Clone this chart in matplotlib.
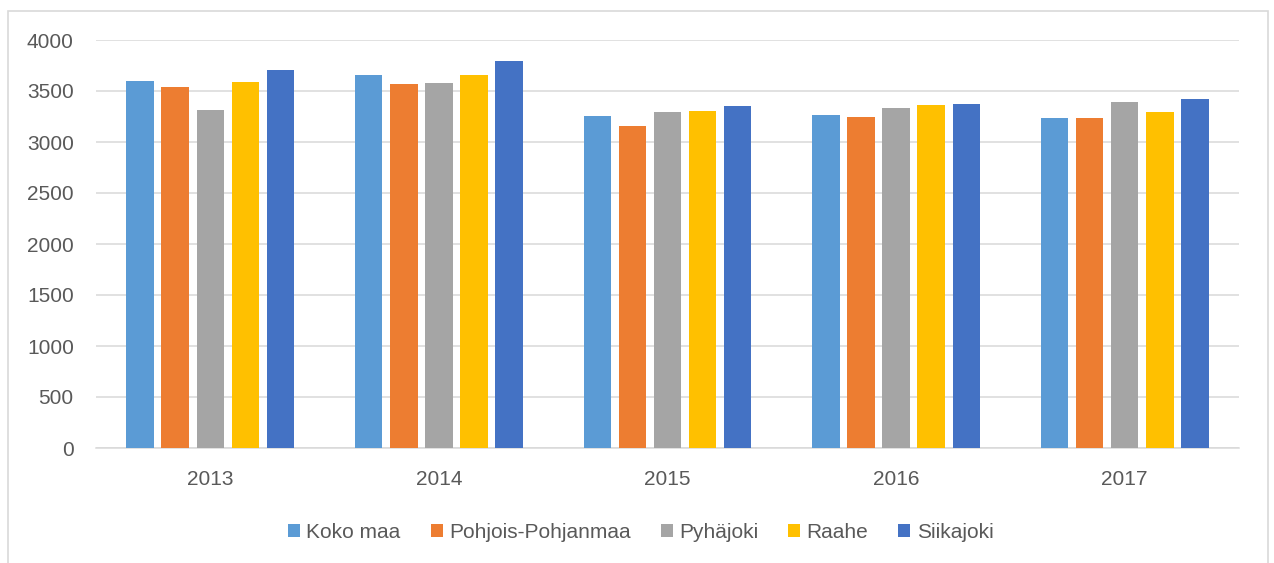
import numpy as np
import matplotlib.pyplot as plt
from matplotlib.patches import Rectangle

plt.rcParams['font.family'] = ['Liberation Sans', 'DejaVu Sans']

# data
years = ['2013', '2014', '2015', '2016', '2017']
koko_maa = [3598, 3657, 3258, 3265, 3232]
pohjois_pohjanmaa = [3539, 3572, 3157, 3242, 3232]
pyhajoki = [3317, 3581, 3291, 3330, 3389]
raahe = [3585, 3654, 3301, 3366, 3291]
siikajoki = [3706, 3791, 3356, 3373, 3425]

series = [koko_maa, pohjois_pohjanmaa, pyhajoki, raahe, siikajoki]
names = ['Koko maa', 'Pohjois-Pohjanmaa', 'Pyhäjoki', 'Raahe', 'Siikajoki']
colors = ['#5B9BD5', '#ED7D31', '#A5A5A5', '#FFC000', '#4472C4']
text_col = '#595959'
line_col = '#D9D9D9'

fig = plt.figure(figsize=(12.74, 5.63), dpi=100)
ax = fig.add_axes([96/1274, 115/563, 1143/1274, 408/563])

# outer chart border (bottom edge runs off the picture)
fig.patches.append(Rectangle((8/1274, -10/563), 1260/1274, 562/563,
                             transform=fig.transFigure, fill=False,
                             edgecolor=line_col, linewidth=1.2))

x = np.arange(len(years))
pitch = 0.1535
width = 0.12
for i, vals in enumerate(series):
    ax.bar(x + (i - 2) * pitch, vals, width, color=colors[i], label=names[i],
           zorder=3)

ax.set_xlim(-0.5, 4.5)
ax.set_ylim(0, 4000)
ax.set_yticks(np.arange(0, 4001, 500))
ax.set_xticks(x)
ax.set_xticklabels(years)
ax.grid(axis='y', color=line_col, linewidth=1.1, zorder=0)
for s in ['top', 'left', 'right']:
    ax.spines[s].set_visible(False)
ax.spines['bottom'].set_color(line_col)
ax.spines['bottom'].set_linewidth(1.1)
ax.tick_params(axis='both', length=0, labelsize=15, colors=text_col)
ax.tick_params(axis='y', pad=16)
ax.tick_params(axis='x', pad=16)

ax.legend(loc='center', bbox_to_anchor=(0.503, 0.054),
          bbox_transform=fig.transFigure, ncol=5, frameon=False,
          fontsize=15, labelcolor=text_col, handlelength=0.57,
          handleheight=0.57, handletextpad=0.3, columnspacing=1.45)

plt.savefig('out.png', dpi=100)
